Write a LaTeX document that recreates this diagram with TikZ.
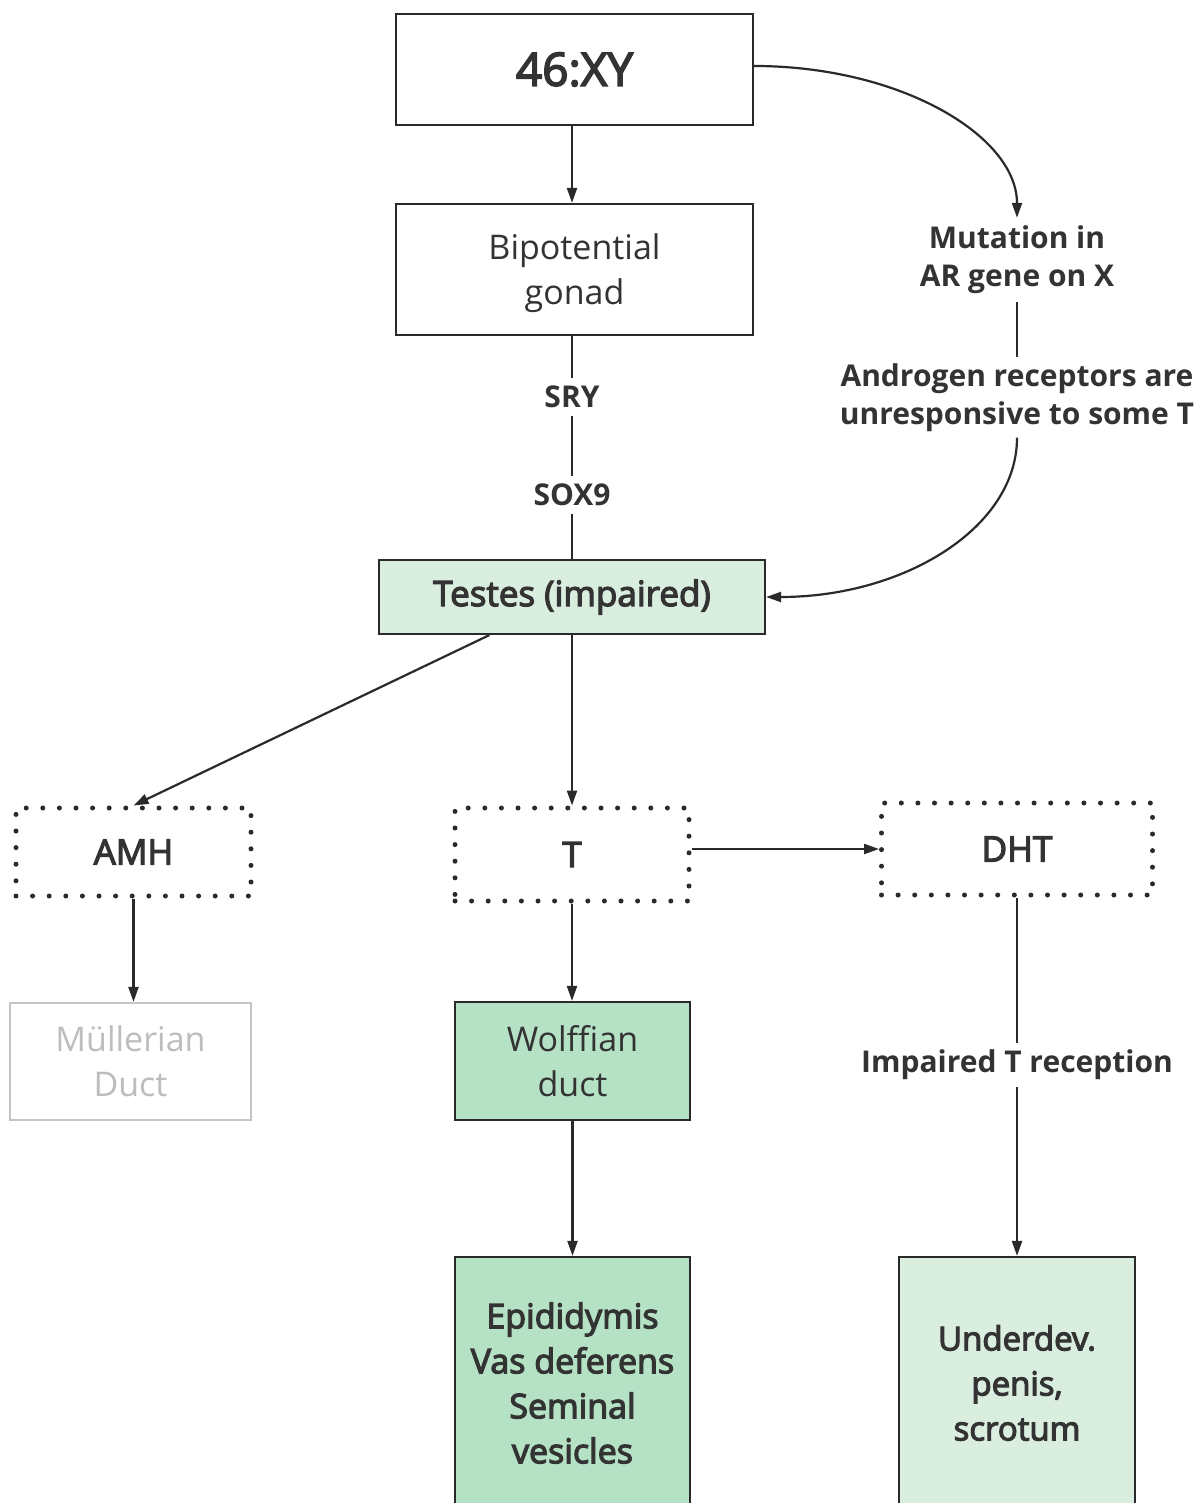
\documentclass[tikz,border=0pt]{standalone}
\usepackage{fontspec}
\setmainfont{Open Sans}
\newfontfamily\semibold{Open Sans}[FakeBold=3.5]
\usetikzlibrary{arrows.meta,calc}
\definecolor{ink}{HTML}{333333}
\definecolor{edge}{HTML}{2A2A2A}
\definecolor{palegreen}{HTML}{DAEEE0}
\definecolor{midgreen}{HTML}{B5E1C5}
\definecolor{faded}{HTML}{C4C4C4}
\definecolor{fadedtext}{HTML}{BDBDBD}
\begin{document}
\begin{tikzpicture}[x=1pt,y=-1pt,
  every node/.style={text=ink},
  box/.style={draw=edge, line width=2.2pt, inner sep=0pt, align=center},
  dotbox/.style={draw=edge, line width=5pt, dash pattern=on 0pt off 16.6pt, line cap=round, inner sep=0pt, align=center},
  reg/.style={font=\fontsize{34}{45}\selectfont},
  semi/.style={font=\semibold\fontsize{34}{45}\selectfont},
  lab/.style={font=\bfseries\fontsize{30}{38}\selectfont, align=center, inner sep=7pt},
  arr/.style={draw=edge, line width=2.2pt, -{Triangle[length=15pt,width=10pt]}},
  link/.style={draw=edge, line width=2.2pt}
]
\useasboundingbox (0,0) rectangle (1197,1503);
\fill[white] (0,0) rectangle (1197,1503);
\begin{scope}
\clip (0,0) rectangle (1197,1503);

% main column
\node[box, font=\semibold\fontsize{46}{55}\selectfont, minimum width=357pt, minimum height=111pt] (xy) at (574.5,69.5) {46:XY};
\node[box, reg, minimum width=357pt, minimum height=131pt, text depth=0pt] (gonad) at (574.5,269.5) {Bipotential\\gonad};
\node[lab, inner sep=8pt] (sry) at (572,397) {SRY};
\node[lab, inner sep=8pt] (sox) at (572,495) {SOX9};
\node[box, fill=palegreen, font=\semibold\fontsize{35}{45}\selectfont, minimum width=386pt, minimum height=74pt] (testes) at (572,597) {Testes (impaired)};

% hormones
\node[dotbox, font=\semibold\fontsize{35}{45}\selectfont, minimum width=235pt, minimum height=88pt] (amh) at (133.5,852) {AMH};
\node[dotbox, font=\semibold\fontsize{35}{45}\selectfont, minimum width=234pt, minimum height=93pt] (t) at (572,854.5) {T};
\node[dotbox, font=\semibold\fontsize{35}{45}\selectfont, minimum width=271pt, minimum height=92pt] (dht) at (1017,849) {DHT};

% ducts and outcomes
\node[box, draw=faded, reg, text=fadedtext, minimum width=241pt, minimum height=117pt] (mull) at (130.5,1061.5) {Müllerian\\Duct};
\node[box, fill=midgreen, reg, minimum width=235pt, minimum height=118pt] (wolf) at (572.5,1061) {Wolffian\\duct};
\node[box, fill=midgreen, semi, minimum width=235pt, minimum height=252pt] (epi) at (572.5,1383) {Epididymis\\Vas deferens\\Seminal\\vesicles};
\node[box, fill=palegreen, font=\semibold\fontsize{33}{45}\selectfont, minimum width=236pt, minimum height=252pt] (under) at (1017,1383) {Underdev.\\penis,\\scrotum};

% androgen receptor branch
\node[lab, inner sep=8pt] (mut) at (1017,260) {Mutation in\\AR gene on X};
\node[lab, inner sep=6pt] (andr) at (1017,397.5) {Androgen receptors are\\unresponsive to some T};
\node[lab, anchor=base] (imp) at (1017,1072.5) {Impaired T reception};

% connectors
\draw[arr] (xy.south -| testes) -- (gonad.north -| testes);
\draw[link] (gonad.south -| testes) -- (sry);
\draw[link] (sry) -- (sox);
\draw[link] (sox) -- (testes.north);
\draw[arr] (xy.east |- 0,66) .. controls +(146,0) and +(0,-82) .. (mut.north);
\draw[link] (mut) -- (andr);
\draw[arr] (andr.south) .. controls +(0,90) and +(138,0) .. (testes.east);
\draw[arr] ($(testes.south west)!0.287!(testes.south east)$) -- (amh.north);
\draw[arr] (testes.south) -- (t.north);
\draw[arr] (t.east |- dht) -- (dht.west);
\draw[arr] (amh.south) -- (amh.south |- mull.north);
\draw[arr] (t.south) -- (t.south |- wolf.north);
\draw[arr] (wolf.south) -- (epi.north);
\draw[link] (dht.south) -- (imp);
\draw[arr] (imp) -- (under.north);
\end{scope}
\end{tikzpicture}
\end{document}
